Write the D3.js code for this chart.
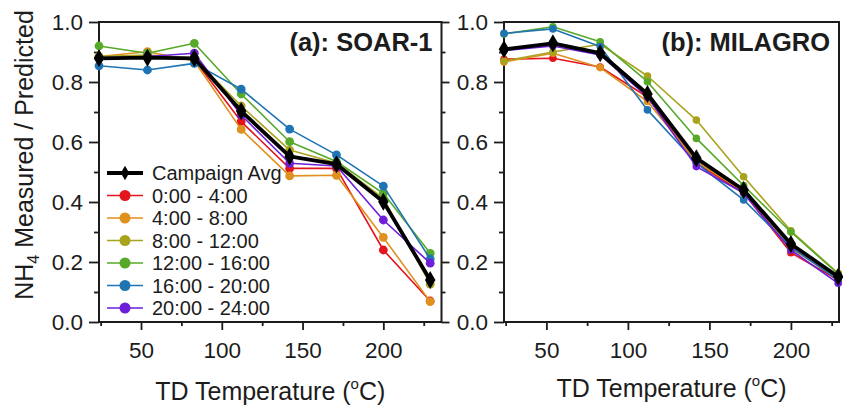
<!DOCTYPE html>
<html><head><meta charset="utf-8">
<script src="https://cdn.jsdelivr.net/npm/d3@7"></script>
<style>
body{margin:0;background:#fff;}
svg{display:block;font-family:"Liberation Sans",Arial,sans-serif;}
</style></head>
<body><svg id="chart" width="843" height="408"></svg>
<script>
// ---- data ----
const temps = [24, 54, 83, 112, 142, 171, 200, 229];
const seriesNames = ["0:00 - 4:00","4:00 - 8:00","8:00 - 12:00","12:00 - 16:00","16:00 - 20:00","20:00 - 24:00"];
const seriesColors = ["#e3141c","#e0901e","#a8a31c","#57a92a","#1f74b4","#6d1fd9"];
const avgName = "Campaign Avg";

const soarAvg    = [0.879, 0.881, 0.879, 0.703, 0.552, 0.526, 0.401, 0.140];
const soar0_4    = [0.880, 0.885, 0.875, 0.668, 0.512, 0.512, 0.240, 0.070];
const soar4_8    = [0.885, 0.901, 0.870, 0.642, 0.487, 0.489, 0.282, 0.068];
const soar8_12   = [0.885, 0.890, 0.880, 0.720, 0.573, 0.530, 0.412, 0.126];
const soar12_16  = [0.920, 0.896, 0.929, 0.760, 0.601, 0.535, 0.429, 0.229];
const soar16_20  = [0.854, 0.840, 0.862, 0.776, 0.643, 0.557, 0.453, 0.210];
const soar20_24  = [0.880, 0.885, 0.896, 0.690, 0.529, 0.520, 0.340, 0.196];

const milAvg     = [0.909, 0.929, 0.896, 0.760, 0.546, 0.440, 0.260, 0.151];
const mil0_4     = [0.876, 0.879, 0.850, 0.750, 0.530, 0.430, 0.231, 0.140];
const mil4_8     = [0.867, 0.896, 0.848, 0.735, 0.535, 0.435, 0.245, 0.145];
const mil8_12    = [0.870, 0.900, 0.926, 0.820, 0.673, 0.484, 0.304, 0.162];
const mil12_16   = [0.960, 0.984, 0.934, 0.801, 0.612, 0.455, 0.300, 0.160];
const mil16_20   = [0.962, 0.977, 0.918, 0.707, 0.530, 0.407, 0.250, 0.140];
const mil20_24   = [0.905, 0.920, 0.890, 0.750, 0.518, 0.430, 0.240, 0.129];

const yMajor = [0, 0.2, 0.4, 0.6, 0.8, 1.0];
const yMinor = [0.1, 0.3, 0.5, 0.7, 0.9];
const xMajor = [50, 100, 150, 200];
const xMinor = [25, 75, 125, 175, 225];

const panels = [
  {title:"(a): SOAR-1", avg:soarAvg, series:[soar0_4,soar4_8,soar8_12,soar12_16,soar16_20,soar20_24],
   x0:99, x1:441.5, dom:[24,236], legend:true, r:4.4, titleY:400},
  {title:"(b): MILAGRO", avg:milAvg, series:[mil0_4,mil4_8,mil8_12,mil12_16,mil16_20,mil20_24],
   x0:504, x1:839, dom:[24,229.5], legend:false, r:3.8, titleY:397}
];

const svg = d3.select("#chart");
const plotTop = 22, plotBottom = 322;
const ink = "#1c1c1c";
const y = d3.scaleLinear().domain([0,1]).range([plotBottom, plotTop]);

panels.forEach(p => {
  const x = d3.scaleLinear().domain(p.dom).range([p.x0, p.x1]);
  const g = svg.append("g");

  g.append("g").attr("transform",`translate(${p.x0},0)`)
    .call(d3.axisLeft(y).tickValues(yMinor).tickSize(5).tickFormat("").tickSizeOuter(0));
  g.append("g").attr("transform",`translate(${p.x0},0)`)
    .call(d3.axisLeft(y).tickValues(yMajor).tickSize(10).tickPadding(6).tickFormat(d3.format(".1f")).tickSizeOuter(0));
  g.append("g").attr("transform",`translate(0,${plotBottom})`)
    .call(d3.axisBottom(x).tickValues(xMinor).tickSize(4).tickFormat("").tickSizeOuter(0));
  g.append("g").attr("transform",`translate(0,${plotBottom})`)
    .call(d3.axisBottom(x).tickValues(xMajor).tickSize(8).tickPadding(12).tickSizeOuter(0));
  if (p.legend) {
    g.append("g").attr("transform",`translate(${p.x1},0)`)
      .call(d3.axisRight(y).tickValues(yMinor).tickSize(4).tickFormat("").tickSizeOuter(0));
    g.append("g").attr("transform",`translate(${p.x1},0)`)
      .call(d3.axisRight(y).tickValues(yMajor).tickSize(8).tickFormat("").tickSizeOuter(0));
  }
  g.selectAll(".domain").remove();
  g.selectAll(".tick line").attr("stroke", ink).attr("stroke-width", 1.8);
  g.selectAll(".tick text").attr("fill", ink).attr("font-size", 22.5)
    .attr("font-family","'Liberation Sans',Arial,sans-serif");

  g.append("rect").attr("x", p.x0).attr("y", plotTop).attr("width", p.x1 - p.x0).attr("height", plotBottom - plotTop)
    .attr("fill","none").attr("stroke", ink).attr("stroke-width", 2);

  const line = d3.line().x((d,i)=>x(temps[i])).y(d=>y(d));
  const clip = "clip" + Math.round(p.x0);
  svg.append("clipPath").attr("id", clip).append("rect")
    .attr("x", p.x0 - 6).attr("y", plotTop - 6).attr("width", p.x1 - p.x0 + 12).attr("height", plotBottom - plotTop + 12);
  const plot = g.append("g").attr("clip-path", `url(#${clip})`);

  p.series.forEach((s, k) => {
    plot.append("path").datum(s).attr("d", line).attr("fill","none")
      .attr("stroke", seriesColors[k]).attr("stroke-width", 1.6).attr("stroke-linejoin","round");
    plot.selectAll(null).data(s).enter().append("circle")
      .attr("cx",(d,i)=>x(temps[i])).attr("cy",d=>y(d)).attr("r",p.r).attr("fill",seriesColors[k]);
  });
  plot.append("path").datum(p.avg).attr("d", line).attr("fill","none")
    .attr("stroke","#000").attr("stroke-width", 3.8).attr("stroke-linejoin","round");
  plot.selectAll(null).data(p.avg).enter().append("path")
    .attr("transform",(d,i)=>`translate(${x(temps[i])},${y(d)})`)
    .attr("d", d3.symbol(d3.symbolDiamond, 95)()).attr("fill","#000");

  g.append("text").attr("x", p.x1 - 9).attr("y", 51).attr("text-anchor","end")
    .attr("font-size", 25.5).attr("font-weight","bold").attr("fill", ink).text(p.title);

  const xt = g.append("text").attr("x", (p.x0 + p.x1)/2).attr("y", p.titleY)
    .attr("text-anchor","middle").attr("font-size", 25).attr("fill", ink);
  xt.append("tspan").text("TD Temperature (");
  xt.append("tspan").attr("font-size", 15).attr("dy", -11).text("o");
  xt.append("tspan").attr("dy", 11).text("C)");

  if (p.legend) {
    const lg = g.append("g");
    const rows = [{name:avgName, color:"#000", avg:true}].concat(seriesNames.map((n,k)=>({name:n,color:seriesColors[k]})));
    rows.forEach((r, i) => {
      const cy = 173 + i * 22.5;
      lg.append("line").attr("x1",107).attr("x2",143).attr("y1",cy).attr("y2",cy)
        .attr("stroke", r.color).attr("stroke-width", r.avg ? 3.8 : 1.6);
      if (r.avg) {
        lg.append("path").attr("transform",`translate(125,${cy})`)
          .attr("d", d3.symbol(d3.symbolDiamond, 60)()).attr("fill","#000");
      } else {
        lg.append("circle").attr("cx",125).attr("cy",cy).attr("r",5.5).attr("fill",r.color);
      }
      lg.append("text").attr("x",152).attr("y",cy).attr("dy","0.35em")
        .attr("font-size",20).attr("fill", ink).text(r.name);
    });
  }
});

const yt = svg.append("text").attr("transform","translate(33,155) rotate(-90)")
  .attr("text-anchor","middle").attr("font-size", 25).attr("fill", ink);
yt.append("tspan").text("NH");
yt.append("tspan").attr("font-size", 16).attr("dy", 6).text("4");
yt.append("tspan").attr("dy", -6).text(" Measured / Predicted");
</script></body></html>
